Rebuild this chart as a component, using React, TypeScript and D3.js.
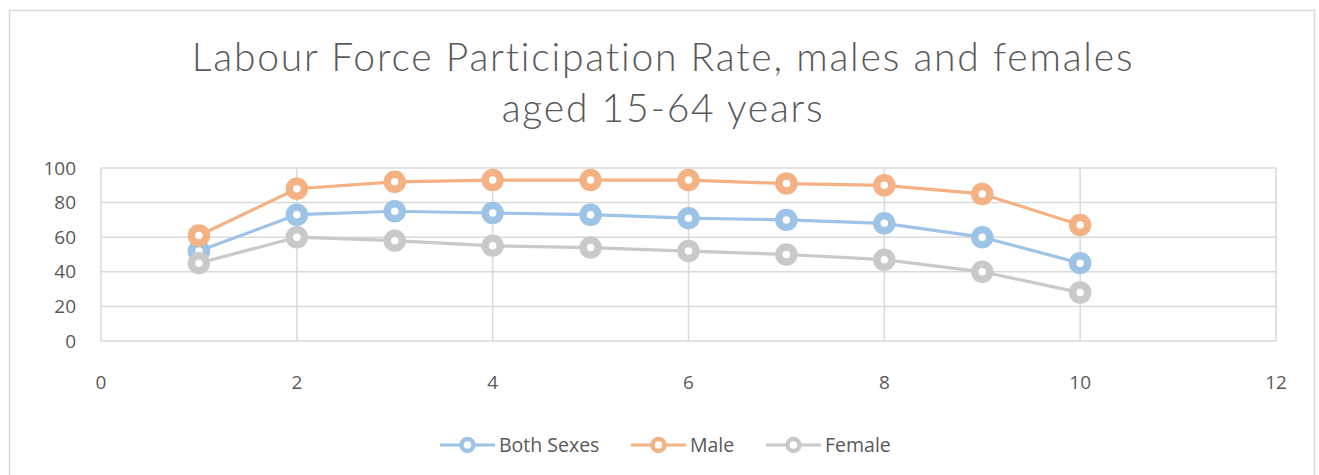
import React, { useEffect, useRef } from "react"
import * as d3 from "d3"

// data
const xValues = [1, 2, 3, 4, 5, 6, 7, 8, 9, 10]
const bothSexes = [52, 73, 75, 74, 73, 71, 70, 68, 60, 45]
const male = [61, 88, 92, 93, 93, 93, 91, 90, 85, 67]
const female = [45, 60, 58, 55, 54, 52, 50, 47, 40, 28]
const seriesNames = ["Both Sexes", "Male", "Female"]
const xTicks = [0, 2, 4, 6, 8, 10, 12]
const yTicks = [0, 20, 40, 60, 80, 100]
const titleLines = ["Labour Force Participation Rate, males and females", "aged 15-64 years"]

const colors = ["#9dc3e6", "#f4b183", "#c9c9c9"]

const App = () => {
	const ref = useRef<SVGSVGElement>(null)

	useEffect(() => {
		const width = 1319
		const height = 475
		const marginLeft = 101
		const marginRight = 1276
		const marginTop = 168
		const plotBottom = 341
		const font = "'Open Sans', sans-serif"
		const textColor = "#595959"

		const svg = d3.select(ref.current)
		svg.selectAll("*").remove()

		// outer chart frame
		svg
			.append("rect")
			.attr("x", 9.5)
			.attr("y", 10.5)
			.attr("width", 1305)
			.attr("height", 480)
			.attr("fill", "#fff")
			.attr("stroke", "#d9d9d9")
			.attr("stroke-width", 1.5)

		const x = d3.scaleLinear().domain([0, 12]).range([marginLeft, marginRight])
		const y = d3.scaleLinear().domain([0, 100]).range([plotBottom, marginTop])

		// title
		const title = svg
			.append("text")
			.attr("text-anchor", "middle")
			.style("font-family", "Lato")
			.style("font-weight", 300)
			.style("font-size", "39px")
			.style("letter-spacing", "1.8px")
			.attr("fill", textColor)
		titleLines.forEach((line, i) => {
			title
				.append("tspan")
				.attr("x", 663)
				.attr("y", 71 + i * 51)
				.text(line)
		})

		// horizontal grid
		svg
			.append("g")
			.selectAll("line")
			.data(yTicks)
			.join("line")
			.attr("x1", marginLeft)
			.attr("x2", marginRight)
			.attr("y1", d => y(d))
			.attr("y2", d => y(d))
			.attr("stroke", "#d9d9d9")
			.attr("stroke-width", 1.5)

		// vertical grid
		svg
			.append("g")
			.selectAll("line")
			.data(xTicks)
			.join("line")
			.attr("x1", d => x(d))
			.attr("x2", d => x(d))
			.attr("y1", marginTop)
			.attr("y2", plotBottom)
			.attr("stroke", "#d9d9d9")
			.attr("stroke-width", 1.5)

		// y labels
		svg
			.append("g")
			.selectAll("text")
			.data(yTicks)
			.join("text")
			.attr("x", 76)
			.attr("y", d => y(d) + 6.5)
			.attr("text-anchor", "end")
			.style("font-family", font)
			.style("font-size", "19px")
			.attr("fill", textColor)
			.text(d => d)

		// x labels
		svg
			.append("g")
			.selectAll("text")
			.data(xTicks)
			.join("text")
			.attr("x", d => x(d))
			.attr("y", 388.5)
			.attr("text-anchor", "middle")
			.style("font-family", font)
			.style("font-size", "19px")
			.attr("fill", textColor)
			.text(d => d)

		const series = [bothSexes, male, female]
		const line = d3
			.line<number>()
			.x((_, i) => x(xValues[i]))
			.y(d => y(d))

		series.forEach((values, si) => {
			svg
				.append("path")
				.datum(values)
				.attr("d", line)
				.attr("fill", "none")
				.attr("stroke", colors[si])
				.attr("stroke-width", 3.2)
				.attr("stroke-linejoin", "round")

			svg
				.append("g")
				.selectAll("circle")
				.data(values)
				.join("circle")
				.attr("cx", (_, i) => x(xValues[i]))
				.attr("cy", d => y(d))
				.attr("r", 7.5)
				.attr("fill", "#fff")
				.attr("stroke", colors[si])
				.attr("stroke-width", 7.5)
		})

		// legend
		const legendX = [440, 631, 766]
		const legend = svg.append("g").attr("transform", "translate(0, 445)")
		seriesNames.forEach((name, i) => {
			const g = legend.append("g").attr("transform", `translate(${legendX[i]},0)`)
			g.append("line")
				.attr("x1", 0)
				.attr("x2", 55)
				.attr("stroke", colors[i])
				.attr("stroke-width", 3.2)
			g.append("circle")
				.attr("cx", 27.5)
				.attr("r", 6)
				.attr("fill", "#fff")
				.attr("stroke", colors[i])
				.attr("stroke-width", 4.5)
			g.append("text")
				.attr("x", 59)
				.attr("y", 6.7)
				.style("font-family", font)
				.style("font-size", "19.5px")
				.attr("fill", textColor)
				.text(name)
		})

		svg.attr("width", width).attr("height", height)
	}, [])

	return (
		<svg
			ref={ref}
			style={{ position: "absolute", left: 0, top: 0, display: "block" }}
		></svg>
	)
}

export default App
